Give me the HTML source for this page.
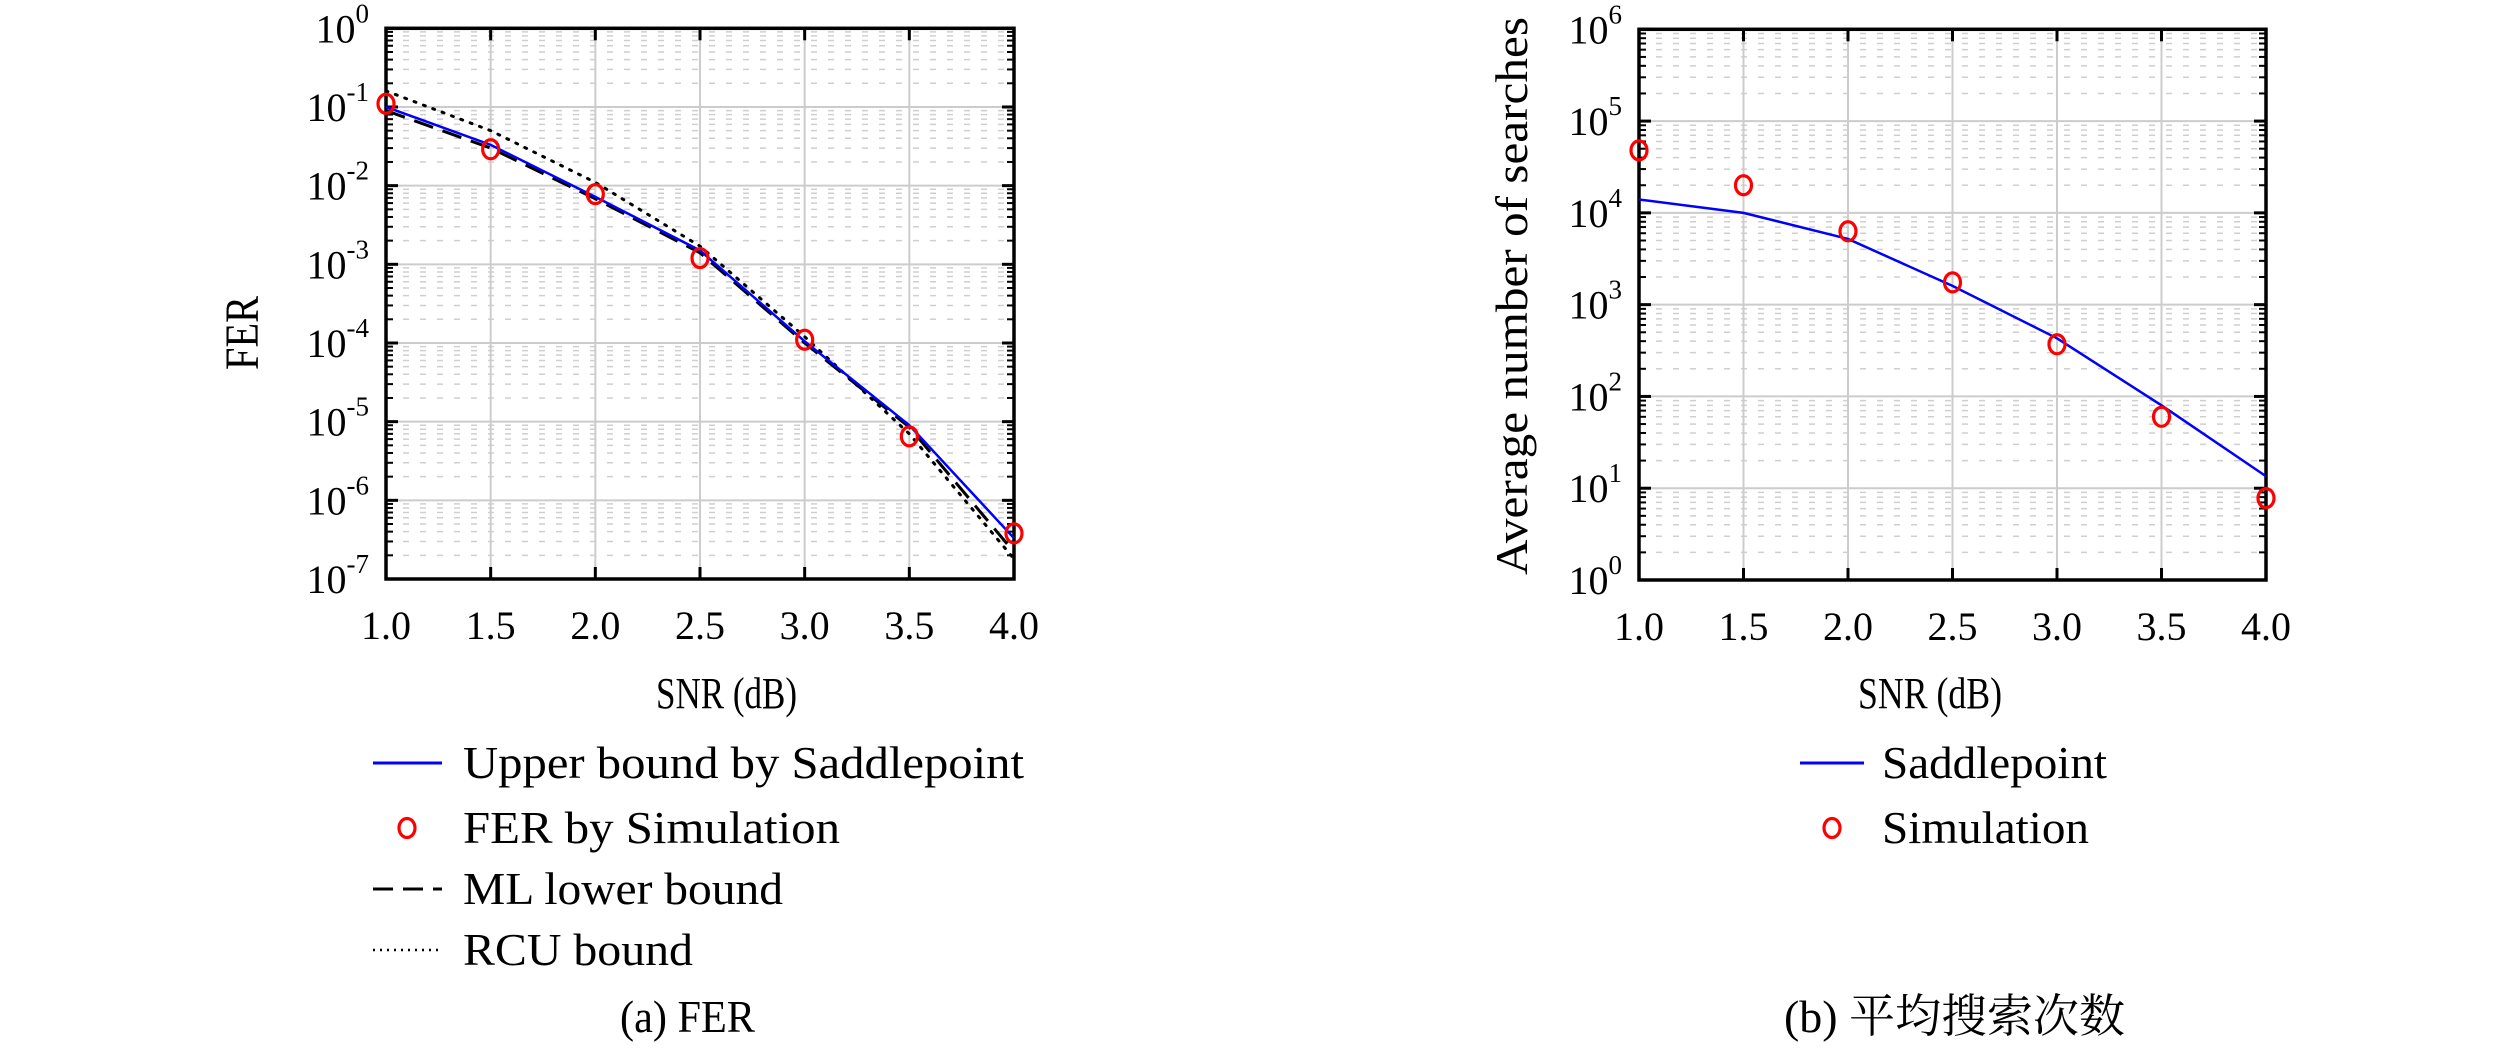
<!DOCTYPE html>
<html><head><meta charset="utf-8"><style>
html,body{margin:0;padding:0;background:#fff;}
svg{display:block;}
</style></head><body>
<svg id="s" width="2520" height="1051" viewBox="0 0 2520 1051" xmlns="http://www.w3.org/2000/svg" font-family="'Liberation Serif', 'Noto Serif CJK SC', serif"></svg>
<script>
const S=document.getElementById('s');let h='';
const FF=`font-family="'Liberation Serif', serif"`;
function T(x,y,size,txt,extra){h+=`<text x="${x}" y="${y}" font-size="${size}" ${FF} ${extra||''}>${txt}</text>`;}
function L(x1,y1,x2,y2,st){h+=`<line x1="${x1}" y1="${y1}" x2="${x2}" y2="${y2}" ${st}/>`;}
function plot(o){
 const {x0,x1,y0,y1,dmin,dmax}=o;
 const X=v=>x0+(v-1)/3*(x1-x0);
 const Y=v=>y1-(Math.log10(v)-dmin)/(dmax-dmin)*(y1-y0);
 for(let d=dmin;d<dmax;d++)for(let k=2;k<10;k++){const y=Y(k*Math.pow(10,d));
  L(x0,y,x1,y,'stroke="#cfcfcf" stroke-width="1.5" stroke-dasharray="6,11"');
  L(x0,y,x0+7,y,'stroke="#000" stroke-width="2"');L(x1-7,y,x1,y,'stroke="#000" stroke-width="2"');}
 for(let d=dmin+1;d<dmax;d++){const y=Y(Math.pow(10,d));L(x0,y,x1,y,'stroke="#cccccc" stroke-width="2"');}
 for(let i=1;i<6;i++){const x=X(1+i*0.5);L(x,y0,x,y1,'stroke="#cccccc" stroke-width="2"');}
 for(let d=dmin;d<=dmax;d++){const y=Y(Math.pow(10,d));L(x0,y,x0+12,y,'stroke="#000" stroke-width="3"');L(x1-12,y,x1,y,'stroke="#000" stroke-width="3"');
  T(x0-17,y+14,40,`10<tspan dy="-20" font-size="27">${d}</tspan>`,'text-anchor="end"');}
 for(let i=0;i<=6;i++){const x=X(1+i*0.5);L(x,y0,x,y0+12,'stroke="#000" stroke-width="3"');L(x,y1-12,x,y1,'stroke="#000" stroke-width="3"');
  T(x,y1+60,40,(1+i*0.5).toFixed(1),'text-anchor="middle"');}
 h+=`<rect x="${x0}" y="${y0}" width="${x1-x0}" height="${y1-y0}" fill="none" stroke="#000" stroke-width="3.5"/>`;
 const xs=[1,1.5,2,2.5,3,3.5,4];
 for(const s of o.series){
  if(s.type==='line'){h+=`<polyline fill="none" points="${s.v.map((v,i)=>X(xs[i])+','+Y(v)).join(' ')}" ${s.st}/>`;}
  else s.v.forEach((v,i)=>{h+=`<ellipse cx="${X(xs[i])}" cy="${Y(v)}" rx="8" ry="9.5" fill="none" stroke="#ff0000" stroke-width="3.2"/>`;});
 }
}
plot({x0:386,x1:1014,y0:28.3,y1:579,dmin:-7,dmax:0,series:[
 {type:'line',v:[0.16,0.05,0.011,0.0017,1.2e-4,7e-6,1.8e-7],st:'stroke="#000" stroke-width="3" stroke-dasharray="2,8" stroke-linecap="round"'},
 {type:'line',v:[0.09,0.03,0.0068,0.0014,1.0e-4,8.5e-6,2.2e-7],st:'stroke="#000" stroke-width="3" stroke-dasharray="20,10"'},
 {type:'line',v:[0.1,0.033,0.0072,0.0015,1.05e-4,9e-6,3.3e-7],st:'stroke="#0000ff" stroke-width="2.5"'},
 {type:'pt',v:[0.11,0.029,0.0078,0.0012,1.1e-4,6.5e-6,3.8e-7]}]});
plot({x0:1639,x1:2266,y0:29.3,y1:580,dmin:0,dmax:6,series:[
 {type:'line',v:[1.4e4,1.0e4,5.2e3,1.6e3,430,80,13.5],st:'stroke="#0000ff" stroke-width="2.5"'},
 {type:'pt',v:[4.8e4,2.0e4,6.3e3,1.75e3,370,60,7.8]}]});
const SG='lengthAdjust="spacingAndGlyphs"';
T(656,708,44,'SNR (dB)',`textLength="141" ${SG}`);
T(1858,708,44,'SNR (dB)',`textLength="144" ${SG}`);
h+=`<text transform="translate(258,333) rotate(-90)" font-size="48" ${FF} text-anchor="middle" textLength="74" ${SG}>FER</text>`;
h+=`<text transform="translate(1527,296) rotate(-90)" font-size="46" ${FF} text-anchor="middle" textLength="558" ${SG}>Average number of searches</text>`;
const ly=[763,828,889,950];
L(373,ly[0],442,ly[0],'stroke="#0000ff" stroke-width="3"');
h+=`<ellipse cx="407" cy="${ly[1]}" rx="8" ry="9.5" fill="none" stroke="#ff0000" stroke-width="3.2"/>`;
L(373,ly[2],442,ly[2],'stroke="#000" stroke-width="3" stroke-dasharray="20,10"');
L(373,ly[3],442,ly[3],'stroke="#000" stroke-width="2.5" stroke-dasharray="2,5"');
const lt=[["Upper bound by Saddlepoint",561],["FER by Simulation",377],["ML lower bound",320],["RCU bound",230]];
lt.forEach((t,i)=>T(463,ly[i]+15,46,t[0],`textLength="${t[1]}" ${SG}`));
T(620,1032,46,'(a) FER',`textLength="135" ${SG}`);
L(1800,763,1864,763,'stroke="#0000ff" stroke-width="3"');
h+=`<ellipse cx="1832" cy="828" rx="8" ry="9.5" fill="none" stroke="#ff0000" stroke-width="3.2"/>`;
T(1882,778,46,'Saddlepoint',`textLength="225" ${SG}`);
T(1882,843,46,'Simulation',`textLength="207" ${SG}`);
h+=`<text x="1784" y="1032" font-size="46" font-family="'Liberation Serif','Noto Serif CJK SC',serif" textLength="341" ${SG}>(b) 平均搜索次数</text>`;
S.innerHTML=h;
</script>
</body></html>
